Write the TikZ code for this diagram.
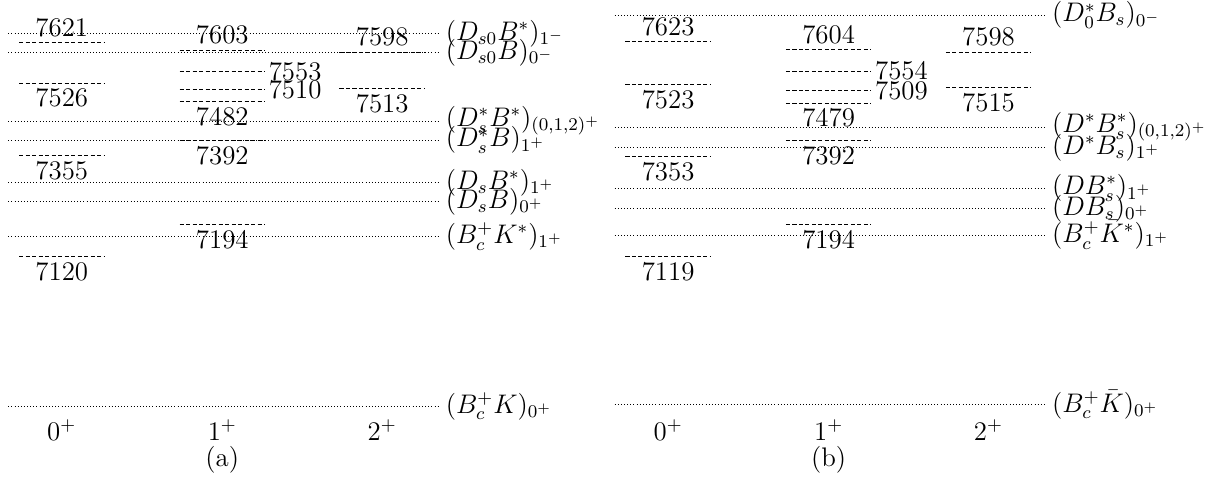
\documentclass[tikz,border=0pt]{standalone}
\usepackage{amsmath,amssymb}
\usepackage{tikz}
\usetikzlibrary{positioning,calc}
\tikzset{
  every node/.style={font=\large},
  level/.style={line width=0.4pt,dash pattern=on 1.8pt off 1.1pt},
  thresh/.style={line width=0.3pt,dash pattern=on 0.4pt off 1pt},
  mass/.style={inner sep=2.4pt},
  chan/.style={anchor=west,inner xsep=2.4pt,inner ysep=0.3pt},
}
\begin{document}
\begin{tikzpicture}
    \useasboundingbox (0,0) rectangle (19.013,7.552);

    % (a) panel
    \begin{scope}[y=0.006704cm,shift={(0,-6593)}]
    \draw[thresh] (0.13,7642) -- (6.91,7642) node[chan] (aDsoBst) {$(D_{s0}B^*)_{1^-}$};
    \draw[thresh] (0.13,7597) -- (6.91,7597) node[chan] (aDsoB) {$(D_{s0}B)_{0^-}$};
    \draw[thresh] (0.13,7437) -- (6.91,7437) node[chan] (aDsstBst) {$(D_s^*B^*)_{(0,1,2)^+}$};
    \draw[thresh] (0.13,7392) -- (6.91,7392) node[chan] (aDsstB) {$(D_s^*B)_{1^+}$};
    \draw[thresh] (0.13,7293) -- (6.91,7293) node[chan] (aDsBst) {$(D_sB^*)_{1^+}$};
    \draw[thresh] (0.13,7248) -- (6.91,7248) node[chan] (aDsB) {$(D_sB)_{0^+}$};
    \draw[thresh] (0.13,7166) -- (6.91,7166) node[chan] (aBcKst) {$(B_c^+K^*)_{1^+}$};
    \draw[thresh] (0.13,6768) -- (6.91,6768) node[chan] (aBcK) {$(B_c^+K)_{0^+}$};

    \draw[level] (0.30,7621) -- (1.64,7621) node[midway,above,mass] (a7621) {7621};
    \draw[level] (0.30,7526) -- (1.64,7526) node[midway,below,mass] (a7526) {7526};
    \draw[level] (0.30,7355) -- (1.64,7355) node[midway,below,mass] (a7355) {7355};
    \draw[level] (0.30,7120) -- (1.64,7120) node[midway,below,mass] (a7120) {7120};

    \draw[level] (2.82,7603) -- (4.16,7603) node[midway,above,mass] (a7603) {7603};
    \draw[level] (2.82,7553) -- (4.16,7553) node[right,inner sep=1.5pt] (a7553) {7553};
    \draw[level] (2.82,7510) -- (4.16,7510) node[right,inner sep=1.5pt] (a7510) {7510};
    \draw[level] (2.82,7482) -- (4.16,7482) node[midway,below,mass] (a7482) {7482};
    \draw[level] (2.82,7392) -- (4.16,7392) node[midway,below,mass] (a7392) {7392};
    \draw[level] (2.82,7194) -- (4.16,7194) node[midway,below,mass] (a7194) {7194};

    \draw[level] (5.33,7598) -- (6.67,7598) node[midway,above,mass] (a7598) {7598};
    \draw[level] (5.33,7513) -- (6.67,7513) node[midway,below,mass] (a7513) {7513};

    \foreach \x/\j in {0.97/0,3.49/1,6.00/2}
        \node (aJ\j) at (\x,6712) {$\j^+$};
    \node (acap) at (3.49,6642) {(a)};
    \end{scope}

    % (b) panel
    \begin{scope}[xshift=9.52cm,y=0.006704cm,shift={(0,-6593)}]
    \draw[thresh] (0.13,7685) -- (6.91,7685) node[chan] (bDoBs) {$(D_0^*B_s)_{0^-}$};
    \draw[thresh] (0.13,7423) -- (6.91,7423) node[chan] (bDstBsst) {$(D^*B_s^*)_{(0,1,2)^+}$};
    \draw[thresh] (0.13,7374) -- (6.91,7374) node[chan] (bDstBs) {$(D^*B_s)_{1^+}$};
    \draw[thresh] (0.13,7280) -- (6.91,7280) node[chan] (bDBsst) {$(DB_s^*)_{1^+}$};
    \draw[thresh] (0.13,7232) -- (6.91,7232) node[chan] (bDBs) {$(DB_s)_{0^+}$};
    \draw[thresh] (0.13,7170) -- (6.91,7170) node[chan] (bBcKst) {$(B_c^+\bar{K}^*)_{1^+}$};
    \draw[thresh] (0.13,6772) -- (6.91,6772) node[chan] (bBcK) {$(B_c^+\bar{K})_{0^+}$};

    \draw[level] (0.30,7623) -- (1.64,7623) node[midway,above,mass] (b7623) {7623};
    \draw[level] (0.30,7523) -- (1.64,7523) node[midway,below,mass] (b7523) {7523};
    \draw[level] (0.30,7353) -- (1.64,7353) node[midway,below,mass] (b7353) {7353};
    \draw[level] (0.30,7119) -- (1.64,7119) node[midway,below,mass] (b7119) {7119};

    \draw[level] (2.82,7604) -- (4.16,7604) node[midway,above,mass] (b7604) {7604};
    \draw[level] (2.82,7554) -- (4.16,7554) node[right,inner sep=1.5pt] (b7554) {7554};
    \draw[level] (2.82,7509) -- (4.16,7509) node[right,inner sep=1.5pt] (b7509) {7509};
    \draw[level] (2.82,7479) -- (4.16,7479) node[midway,below,mass] (b7479) {7479};
    \draw[level] (2.82,7392) -- (4.16,7392) node[midway,below,mass] (b7392) {7392};
    \draw[level] (2.82,7194) -- (4.16,7194) node[midway,below,mass] (b7194) {7194};

    \draw[level] (5.33,7598) -- (6.67,7598) node[midway,above,mass] (b7598) {7598};
    \draw[level] (5.33,7515) -- (6.67,7515) node[midway,below,mass] (b7515) {7515};

    \foreach \x/\j in {0.97/0,3.49/1,6.00/2}
        \node (bJ\j) at (\x,6712) {$\j^+$};
    \node (bcap) at (3.49,6642) {(b)};
    \end{scope}
\end{tikzpicture}
\end{document}
